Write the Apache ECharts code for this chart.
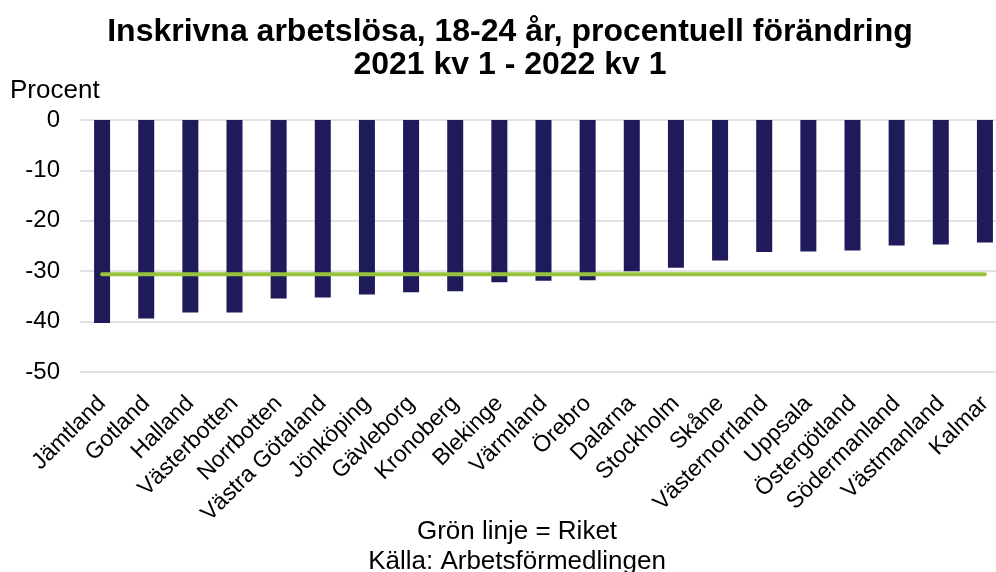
<!DOCTYPE html>
<html>
<head>
<meta charset="utf-8">
<script src="https://cdn.jsdelivr.net/npm/echarts@6/dist/echarts.min.js"></script>
<style>
  html, body { margin: 0; padding: 0; background: #fff; overflow: hidden; }
  /* plot area runs a little past the right edge, as in the original */
  #chart { width: 1007px; height: 572px; }
</style>
</head>
<body>
<div id="chart"></div>
<script>
// län, sorterade efter förändring
var lan = ['Jämtland', 'Gotland', 'Halland', 'Västerbotten', 'Norrbotten', 'Västra Götaland',
  'Jönköping', 'Gävleborg', 'Kronoberg', 'Blekinge', 'Värmland', 'Örebro', 'Dalarna',
  'Stockholm', 'Skåne', 'Västernorrland', 'Uppsala', 'Östergötland', 'Södermanland',
  'Västmanland', 'Kalmar']
// procentuell förändring 2021 kv 1 - 2022 kv 1
var forandring = [-40.3, -39.4, -38.2, -38.2, -35.4, -35.2, -34.6, -34.2, -34.0, -32.2,
  -31.9, -31.8, -30.0, -29.3, -27.9, -26.2, -26.1, -25.9, -24.9, -24.7, -24.3]
// riket (grön linje)
var riket = -30.6
var yTicks = [0, -10, -20, -30, -40, -50]

var font = 'Liberation Sans, Arial, sans-serif'
var chart = echarts.init(document.getElementById('chart'))

var option = {
  backgroundColor: '#ffffff',
  animation: false,
  title: [{
    text: 'Inskrivna arbetslösa, 18-24 år, procentuell förändring\n2021 kv 1 - 2022 kv 1',
    left: 505,
    top: 11,
    textAlign: 'center',
    textStyle: { fontFamily: font, fontSize: 32, fontWeight: 'bold', color: '#000', lineHeight: 33 }
  }, {
    text: 'Procent',
    left: 5,
    top: 73,
    textStyle: { fontFamily: font, fontSize: 26, fontWeight: 'normal', color: '#000' }
  }, {
    text: 'Grön linje = Riket\nKälla: Arbetsförmedlingen',
    left: 512,
    top: 512,
    textAlign: 'center',
    textStyle: { fontFamily: font, fontSize: 26, fontWeight: 'normal', color: '#000', lineHeight: 30 }
  }],
  grid: {
    left: 80,
    top: 120,
    right: 0,
    height: 252,
    containLabel: false
  },
  xAxis: {
    type: 'category',
    data: lan,
    position: 'bottom',
    axisLine: { show: false },
    axisTick: { show: false },
    axisLabel: {
      interval: 0,
      rotate: 45,
      margin: 28,
      fontFamily: font,
      fontSize: 23,
      color: '#000'
    }
  },
  yAxis: {
    type: 'value',
    min: -50,
    max: 0,
    interval: 10,
    axisLine: { show: false },
    axisTick: { show: false },
    axisLabel: {
      margin: 20,
      fontFamily: font,
      fontSize: 24,
      color: '#000',
      formatter: function (v) {
        return yTicks.indexOf(v) >= 0 ? String(v) : ''
      }
    },
    splitLine: { lineStyle: { color: '#d9d9d9', width: 1.5 } }
  },
  series: [{
    name: 'Län',
    type: 'bar',
    data: forandring,
    barWidth: 16,
    itemStyle: { color: '#1f1a5a' }
  }, {
    name: 'Riket',
    type: 'line',
    data: lan.map(function () { return riket }),
    symbol: 'none',
    lineStyle: { color: '#97c23d', width: 4, cap: 'round' },
    z: 5
  }]
}

chart.setOption(option)
</script>
</body>
</html>
